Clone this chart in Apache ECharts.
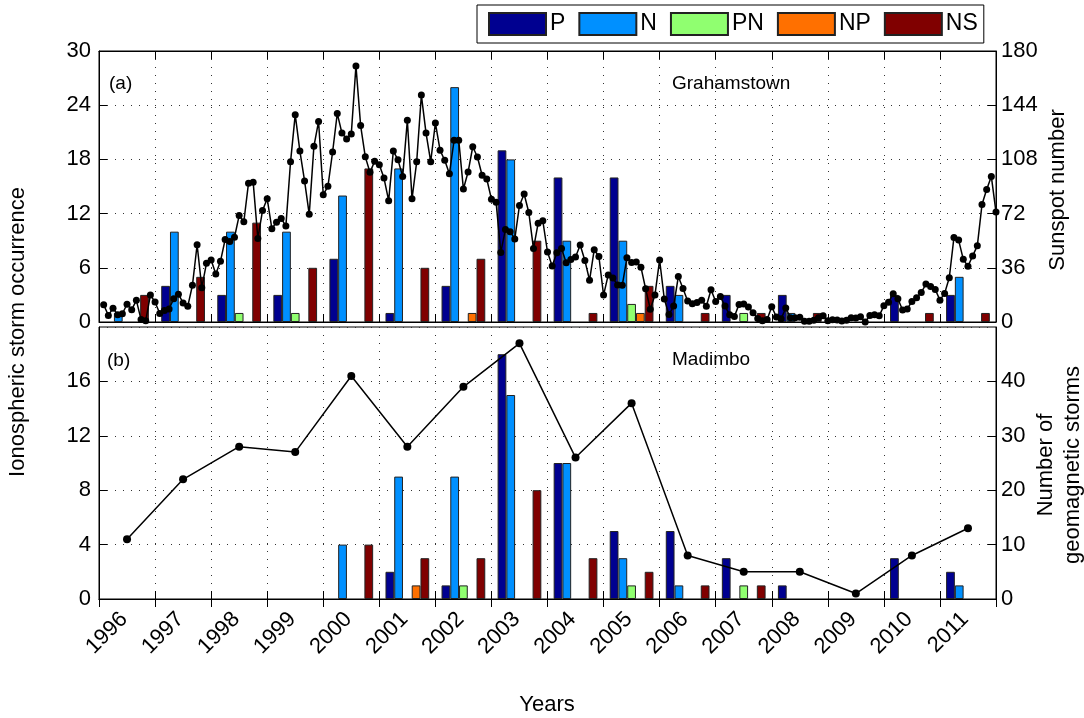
<!DOCTYPE html>
<html><head><meta charset="utf-8">
<script src="https://cdn.jsdelivr.net/npm/echarts@6/dist/echarts.min.js"></script>
<style>html,body{margin:0;padding:0;background:#fff}#c{width:1084px;height:718px}</style>
</head><body><div id="c"></div>
<script>
// ---------- DATA ----------
const years = ['1996','1997','1998','1999','2000','2001','2002','2003','2004','2005','2006','2007','2008','2009','2010','2011'];
const typeNames = ['P','N','PN','NP','NS'];

// Grahamstown ionospheric storm occurrence (panel a)
const gP  = [0,4,3,3,7,1,4,19,16,16,4,3,3,0,3,3];
const gN  = [1,10,10,10,14,17,26,18,9,9,3,0,1,0,0,5];
const gPN = [0,0,1,1,0,0,0,0,0,2,0,1,0,0,0,0];
const gNP = [0,0,0,0,0,0,1,0,0,1,0,0,0,0,0,0];
const gNS = [3,5,11,6,17,6,7,9,1,4,1,1,1,0,1,1];

// Madimbo ionospheric storm occurrence (panel b)
const mP  = [0,0,0,0,0,2,1,18,10,5,5,3,1,0,3,2];
const mN  = [0,0,0,0,4,9,9,15,10,3,1,0,0,0,0,1];
const mPN = [0,0,0,0,0,0,1,0,0,1,0,1,0,0,0,0];
const mNP = [0,0,0,0,0,1,0,0,0,0,0,0,0,0,0,0];
const mNS = [0,0,0,0,4,3,3,8,3,2,1,1,0,0,0,0];

// Number of geomagnetic storms per year (panel b, right axis)
const geomagStorms = [11,22,28,27,41,28,39,47,26,36,8,5,5,1,8,13];

// Monthly sunspot number, Jan 1996 .. Dec 2011 (panel a, right axis)
const sunspot = [
 11.5,4.4,9.2,4.8,5.5,11.8,8.2,14.4,1.6,0.9,17.9,13.3,
 5.7,7.6,8.7,15.5,18.5,12.7,10.4,24.4,51.3,22.8,39.0,41.2,
 31.9,40.3,54.8,53.4,56.3,70.7,66.6,92.2,92.9,55.5,74.0,81.9,
 62.0,66.3,68.8,63.7,106.4,137.7,113.5,93.7,71.5,116.7,133.2,84.6,
 90.1,112.9,138.5,125.5,121.6,124.9,170.1,130.5,109.7,99.4,106.8,104.4,
 95.6,80.6,113.5,107.7,96.6,134.0,81.8,106.4,150.7,125.5,106.5,132.2,
 114.1,107.4,98.4,120.7,120.8,88.3,99.6,116.4,109.6,97.5,95.0,81.6,
 79.5,46.2,61.5,60.0,55.2,77.4,85.0,72.7,48.8,65.6,67.2,46.5,
 37.2,46.0,48.9,39.3,41.5,43.2,51.1,40.9,27.7,48.0,43.5,17.9,
 31.3,29.2,24.5,24.4,42.6,39.6,39.9,36.4,22.1,8.5,18.0,41.2,
 15.3,4.9,10.6,30.2,22.3,13.9,12.2,12.9,14.4,10.5,21.4,13.6,
 16.9,10.6,4.8,3.7,11.7,12.0,10.0,6.2,2.4,0.9,1.7,10.1,
 3.3,2.1,9.3,2.9,2.9,3.1,0.5,0.5,1.1,2.9,4.1,0.8,
 1.5,1.4,0.7,1.2,2.9,2.6,3.5,0.0,4.3,4.8,4.1,10.8,
 13.2,18.8,15.4,8.0,8.7,13.6,16.1,19.6,25.2,23.5,21.6,14.5,
 19.0,29.4,56.2,54.4,41.6,37.0,43.9,50.6,78.0,88.0,96.7,73.0
];
const firstYear = 1996;

// ---------- STYLE ----------
const FONT = '"Liberation Sans", Arial, Helvetica, sans-serif';
const colors = {P:'#000090', N:'#0090FF', PN:'#90FF70', NP:'#FF7000', NS:'#800000'};
const gridDots = {show:true, interval:0, lineStyle:{color:'#333', width:1, type:[1,7]}};

const chart = echarts.init(document.getElementById('c'), null, {renderer:'canvas'});

function barSeries(arrs, xi, yi) {
  return typeNames.map((n, k) => ({
    type:'bar', name:n, xAxisIndex:xi, yAxisIndex:yi,
    data: arrs[k].map(v => v === 0 ? '-' : v),
    barGap:'0%', barCategoryGap:'22%',
    itemStyle:{color:colors[n], borderColor:'#222', borderWidth:1},
    z:2
  }));
}

const monthlyPoints = sunspot.map((v, i) => [firstYear + (i + 1) / 12, v]);

function catAxis(gi, pos, labels) {
  return {
    type:'category', gridIndex:gi, position:pos, data:years, boundaryGap:true,
    axisLine:{show:true, lineStyle:{color:'#000', width:1}},
    axisTick:{show:true, inside:true, length:8, interval:0, lineStyle:{color:'#000'}},
    axisLabel: labels ? {show:true, interval:0, rotate:45, margin:14, align:'right', verticalAlign:'middle',
                         padding:[0,4,0,0], fontSize:22, fontFamily:FONT, color:'#000'} : {show:false},
    splitLine: pos === 'bottom' ? gridDots : {show:false}
  };
}
function valAxis(gi, pos, max, interval, showMax, split) {
  return {
    type:'value', gridIndex:gi, position:pos, min:0, max:max, interval:interval,
    axisLine:{show:true, lineStyle:{color:'#000', width:1}},
    axisTick:{show:true, inside:true, length:8, lineStyle:{color:'#000'}},
    axisLabel:{show:true, fontSize:22, fontFamily:FONT, color:'#000', margin: pos==='left'?8:5, showMaxLabel:showMax},
    splitLine: split ? {show:true, lineStyle:{color:'#333', width:1, type:[1,7]}} : {show:false}
  };
}

const option = {
  animation:false,
  backgroundColor:'#fff',
  textStyle:{fontFamily:FONT},
  grid:[
    {left:99, top:51, width:897, height:271, show:true, borderColor:'#000', borderWidth:1, backgroundColor:'transparent', containLabel:false, outerBoundsMode:'none'},
    {left:99, top:327, width:897, height:272, show:true, borderColor:'#000', borderWidth:1, backgroundColor:'transparent', containLabel:false, outerBoundsMode:'none'}
  ],
  legend:{
    data:typeNames, left:477, top:5, orient:'horizontal',
    itemWidth:57, itemHeight:22, itemGap:13, icon:'rect',
    padding:[7,6,7,11],
    borderColor:'#000', borderWidth:1, backgroundColor:'#fff',
    textStyle:{fontSize:23, fontFamily:FONT, color:'#000', padding:[0,0,0,-1]},
    selectedMode:false
  },
  xAxis:[
    catAxis(0, 'bottom', false),
    {type:'value', gridIndex:0, min:firstYear, max:firstYear + years.length, show:false},
    catAxis(0, 'top', false),
    catAxis(1, 'bottom', true),
    catAxis(1, 'top', false)
  ],
  yAxis:[
    valAxis(0, 'left', 30, 6, true, true),
    valAxis(0, 'right', 180, 36, true, false),
    valAxis(1, 'left', 20, 4, false, true),
    valAxis(1, 'right', 50, 10, false, false)
  ],
  series:[
    ...barSeries([gP,gN,gPN,gNP,gNS], 0, 0),
    ...barSeries([mP,mN,mPN,mNP,mNS], 3, 2),
    {type:'line', name:'Sunspot number', xAxisIndex:1, yAxisIndex:1, data:monthlyPoints,
     symbol:'circle', symbolSize:7, lineStyle:{color:'#000', width:1.5}, itemStyle:{color:'#000'}, z:5, clip:false},
    {type:'line', name:'Geomagnetic storms', xAxisIndex:3, yAxisIndex:3, data:geomagStorms,
     symbol:'circle', symbolSize:8, lineStyle:{color:'#000', width:1.5}, itemStyle:{color:'#000'}, z:5}
  ],
  graphic:[
    {type:'text', x:18, y:332, rotation:Math.PI/2, style:{text:'Ionospheric storm occurrence', fontSize:22, fontFamily:FONT, fill:'#000', align:'center', verticalAlign:'middle'}},
    {type:'text', x:1058, y:190, rotation:Math.PI/2, style:{text:'Sunspot number', fontSize:22, fontFamily:FONT, fill:'#000', align:'center', verticalAlign:'middle'}},
    {type:'text', x:1059, y:465, rotation:Math.PI/2, style:{text:'Number of\ngeomagnetic storms', fontSize:22, lineHeight:27, fontFamily:FONT, fill:'#000', align:'center', verticalAlign:'middle'}},
    {type:'text', x:547, y:705, style:{text:'Years', fontSize:22, fontFamily:FONT, fill:'#000', align:'center', verticalAlign:'middle'}},
    {type:'text', x:109, y:84, style:{text:'(a)', fontSize:19, fontFamily:FONT, fill:'#000', align:'left', verticalAlign:'middle'}},
    {type:'text', x:672, y:84, style:{text:'Grahamstown', fontSize:19, fontFamily:FONT, fill:'#000', align:'left', verticalAlign:'middle'}},
    {type:'text', x:107, y:361, style:{text:'(b)', fontSize:19, fontFamily:FONT, fill:'#000', align:'left', verticalAlign:'middle'}},
    {type:'text', x:672, y:360, style:{text:'Madimbo', fontSize:19, fontFamily:FONT, fill:'#000', align:'left', verticalAlign:'middle'}}
  ]
};
chart.setOption(option);
</script>
</body></html>
